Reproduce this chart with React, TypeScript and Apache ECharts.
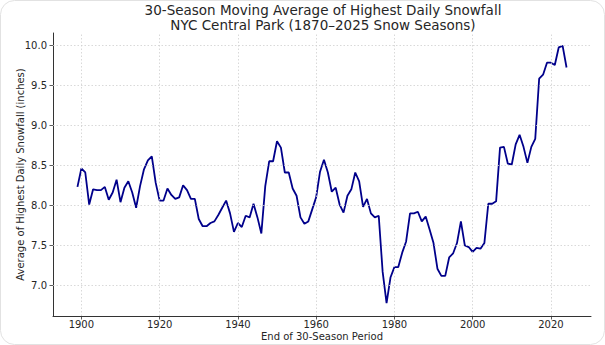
import React, { useEffect, useRef } from "react";
import * as echarts from "echarts";

// 30-season moving average, one value per period end year (1899 .. 2024)
const firstPeriodEndYear = 1899;
const movingAverageInches = [
  8.23, 8.46, 8.41, 8.01, 8.2, 8.19, 8.19, 8.23, 8.07, 8.16, // 1899-1908
  8.32, 8.04, 8.22, 8.3, 8.16, 7.97, 8.24, 8.45, 8.56, 8.61, // 1909-1918
  8.28, 8.06, 8.06, 8.21, 8.13, 8.08, 8.1, 8.25, 8.19, 8.08, // 1919-1928
  8.08, 7.83, 7.74, 7.74, 7.78, 7.8, 7.88, 7.97, 8.06, 7.9, // 1929-1938
  7.67, 7.78, 7.73, 7.87, 7.85, 8.02, 7.85, 7.65, 8.24, 8.55, // 1939-1948
  8.55, 8.8, 8.72, 8.41, 8.41, 8.21, 8.12, 7.85, 7.77, 7.8, // 1949-1958
  7.95, 8.1, 8.42, 8.57, 8.41, 8.17, 8.22, 8.01, 7.91, 8.12, // 1959-1968
  8.2, 8.41, 8.3, 7.98, 8.08, 7.9, 7.85, 7.87, 7.17, 6.78, // 1969-1978
  7.1, 7.23, 7.23, 7.41, 7.55, 7.9, 7.9, 7.92, 7.8, 7.86, // 1979-1988
  7.7, 7.53, 7.21, 7.12, 7.12, 7.35, 7.4, 7.53, 7.8, 7.5, // 1989-1998
  7.48, 7.42, 7.47, 7.46, 7.53, 8.02, 8.02, 8.05, 8.72, 8.73, // 1999-2008
  8.52, 8.51, 8.76, 8.88, 8.73, 8.53, 8.73, 8.83, 9.58, 9.63, // 2009-2018
  9.78, 9.78, 9.75, 9.97, 9.99, 9.72, // 2019-2024
];

const periodEndYears = movingAverageInches.map((_, i) => firstPeriodEndYear + i);

const xTickValues = [1900, 1920, 1940, 1960, 1980, 2000, 2020];
const yTickValues = [7.0, 7.5, 8.0, 8.5, 9.0, 9.5, 10.0];

const titleText =
  "30-Season Moving Average of Highest Daily Snowfall\nNYC Central Park (1870–2025 Snow Seasons)";
const xAxisTitle = "End of 30-Season Period";
const yAxisTitle = "Average of Highest Daily Snowfall (inches)";

const FONT = "DejaVu Sans";
const TEXT = "#262626";
const AXIS = "#333333";

export default function App() {
  const ref = useRef<HTMLDivElement>(null);

  useEffect(() => {
    if (!ref.current) return;
    const chart = echarts.init(ref.current, undefined, { renderer: "svg" });
    const points = periodEndYears.map((y, i) => [y, movingAverageInches[i]]);

    chart.setOption({
      animation: false,
      backgroundColor: "#ffffff",
      title: {
        text: titleText,
        left: 323,
        top: 2.5,
        padding: 0,
        textAlign: "center",
        textStyle: {
          fontFamily: FONT,
          fontSize: 13.5,
          fontWeight: "normal",
          color: TEXT,
          lineHeight: 15,
        },
      },
      grid: {
        left: 53,
        right: 14,
        top: 33,
        bottom: 29,
        containLabel: false,
        outerBoundsMode: "none",
      },
      xAxis: {
        type: "value",
        min: 1892.75,
        max: 2030.25,
        name: xAxisTitle,
        nameLocation: "middle",
        nameGap: 15,
        nameMoveOverlap: false,
        nameTextStyle: { fontFamily: FONT, fontSize: 10, color: TEXT },
        axisLine: { show: true, onZero: false, lineStyle: { color: AXIS, width: 1 } },
        axisTick: {
          show: true,
          length: 3.5,
          customValues: xTickValues,
          lineStyle: { color: AXIS, width: 0.8 },
        },
        axisLabel: {
          customValues: xTickValues,
          margin: 3,
          fontFamily: FONT,
          fontSize: 10,
          color: TEXT,
          formatter: (v: number) => String(v),
        },
        splitLine: { show: false },
      },
      yAxis: {
        type: "value",
        min: 6.62,
        max: 10.15,
        name: yAxisTitle,
        nameLocation: "middle",
        nameGap: 28,
        nameMoveOverlap: false,
        nameTextStyle: { fontFamily: FONT, fontSize: 10, color: TEXT },
        axisLine: { show: true, onZero: false, lineStyle: { color: AXIS, width: 1 } },
        axisTick: {
          show: true,
          length: 3.5,
          customValues: yTickValues,
          lineStyle: { color: AXIS, width: 0.8 },
        },
        axisLabel: {
          customValues: yTickValues,
          margin: 6,
          fontFamily: FONT,
          fontSize: 10,
          color: TEXT,
          formatter: (v: number) => v.toFixed(1),
        },
        splitLine: { show: false },
      },
      graphic: [
        {
          type: "rect",
          shape: { x: 0.5, y: 0.5, width: 604, height: 344, r: 14 },
          style: { fill: "none", stroke: "#e2e2e2", lineWidth: 1 },
          silent: true,
          z: -1,
        },
      ],
      series: [
        {
          type: "line",
          data: points,
          showSymbol: false,
          silent: true,
          z: 1,
          lineStyle: { opacity: 0, width: 0 },
          markLine: {
            silent: true,
            symbol: ["none", "none"],
            label: { show: false },
            lineStyle: { type: [1.5, 2], color: "#cfcfcf", width: 0.8 },
            emphasis: { disabled: true },
            data: [
              ...xTickValues.map((v) => ({ xAxis: v })),
              ...yTickValues.map((v) => ({ yAxis: v })),
            ],
          },
        },
        {
          type: "line",
          data: points,
          showSymbol: false,
          z: 3,
          lineStyle: { color: "#00008b", width: 1.8 },
          itemStyle: { color: "#00008b" },
        },
      ],
    });

    return () => chart.dispose();
  }, []);

  return (
    <div
      ref={ref}
      style={{ position: "fixed", left: 0, top: 0, width: 605, height: 345 }}
    />
  );
}
